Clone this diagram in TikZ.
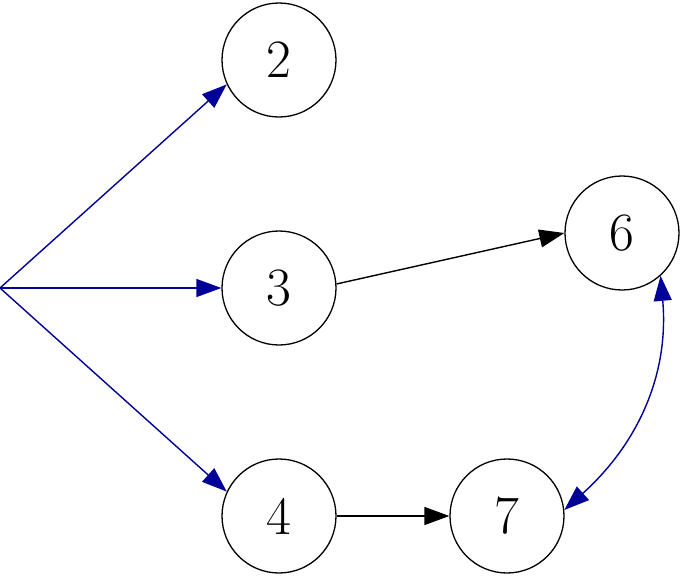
\documentclass[tikz,border=0pt]{standalone}
\usetikzlibrary{arrows.meta}
\definecolor{navy}{RGB}{0,0,153}
\begin{document}
\begin{tikzpicture}[x=1pt,y=-1pt,
  vtx/.style={circle,draw=black,line width=1.3pt,minimum size=114pt,inner sep=0pt,font=\fontsize{54}{60}\selectfont},
  arr/.style={line width=1.4pt,-{Triangle[length=25pt,width=18pt]}},
  barr/.style={arr,draw=navy},
  dbarr/.style={line width=1.4pt,draw=navy,{Triangle[length=25pt,width=18pt]}-{Triangle[length=25pt,width=18pt]}}]
\useasboundingbox (0,0) rectangle (681,576);
\coordinate (s) at (0,288);
\node[vtx] (n2) at (279,60) {2};
\node[vtx] (n3) at (279,288) {3};
\node[vtx] (n4) at (279,516) {4};
\node[vtx] (n6) at (622,233) {6};
\node[vtx] (n7) at (507,516) {7};
\draw[barr] (s) -- (n2.205);
\draw[barr] (s) -- (n3.west);
\draw[barr] (s) -- (n4.155);
\draw[arr] (n3.4) -- (n6.180);
\draw[arr] (n4) -- (n7);
\draw[dbarr] (n6.-48) to[out=-85,in=42] (n7.6);
\end{tikzpicture}
\end{document}
